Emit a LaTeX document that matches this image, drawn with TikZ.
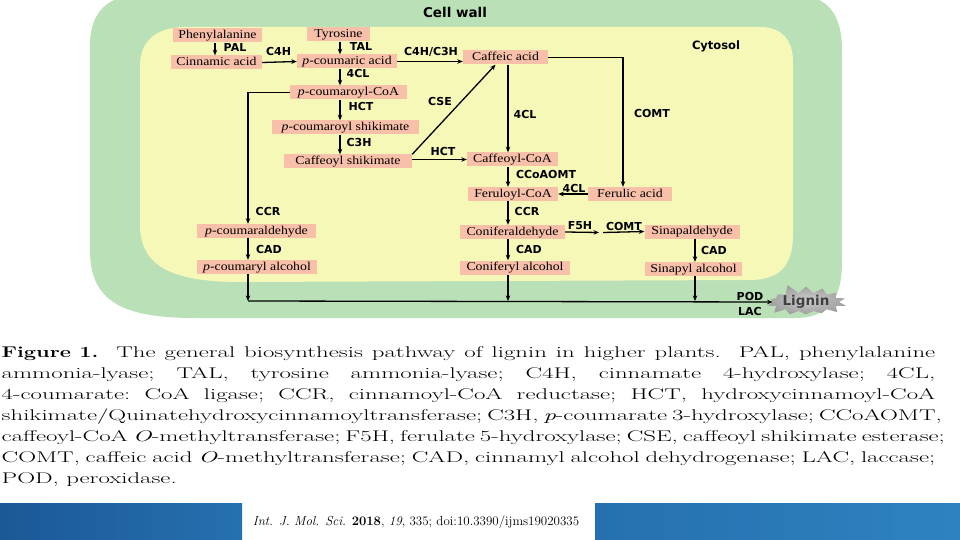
\documentclass[tikz,border=0pt]{standalone}
\usepackage{fontspec}
\usetikzlibrary{arrows.meta,shapes.symbols,calc}
\newfontfamily\boxfont{Liberation Serif}[FakeStretch=1.15]
\newfontfamily\labfont{DejaVu Sans}
\definecolor{cellgreen}{RGB}{185,224,182}
\definecolor{cytyellow}{RGB}{245,248,182}
\definecolor{boxc}{RGB}{248,192,168}
\definecolor{barL}{RGB}{27,88,150}
\definecolor{barM}{RGB}{38,112,175}
\definecolor{barR}{RGB}{46,130,192}
\tikzset{
  cmp/.style={fill=boxc, font=\boxfont\fontsize{12}{13}\selectfont, inner xsep=0pt, inner ysep=1.5pt,
    text height=8.5pt, text depth=2.5pt, minimum height=14pt},
  enz/.style={font=\labfont\bfseries\fontsize{11}{12}\selectfont, inner sep=0pt},
  ttl/.style={font=\labfont\bfseries\fontsize{13.5}{14}\selectfont, inner sep=0pt},
  arr/.style={-{Stealth[length=5.5pt,width=4.5pt]}, line width=1.3pt},
  capline/.style={font=\fontsize{15.5}{18}\selectfont\frenchspacing, inner sep=0pt, anchor=base west},
}
\newcommand{\capl}[1]{\scalebox{1.6}[1]{\makebox[583.5pt][s]{#1}}}
\begin{document}
\begin{tikzpicture}[x=1pt,y=-1pt]
\useasboundingbox (0,0) rectangle (960,540);
% cell wall and cytosol
\fill[cellgreen] (140,-5) -- (795,-5) .. controls (828,-5) and (842,15) .. (842,50)
  -- (842,262) .. controls (842,300) and (828,318) .. (795,318) -- (195,318)
  .. controls (120,318) and (90,300) .. (90,250) -- (90,45)
  .. controls (90,12) and (108,-5) .. (140,-5) -- cycle;
\fill[cytyellow] (185,27) -- (760,27) .. controls (782,27) and (793,40) .. (793,62)
  -- (793,235) .. controls (793,265) and (780,280) .. (750,280) -- (240,282)
  .. controls (170,282) and (140,265) .. (140,225) -- (140,65)
  .. controls (140,40) and (158,27) .. (185,27) -- cycle;
\node[ttl] (cw) at (455,12) {Cell wall};
\node[enz, font=\labfont\bfseries\fontsize{11.5}{12}\selectfont] (cyt) at (716,46) {Cytosol};
% compounds
\node[cmp, minimum width=89pt] (phe) at (217.5,35.5) {Phenylalanine};
\node[cmp, minimum width=91pt] (cin) at (216.5,62.5) {Cinnamic acid};
\node[cmp, minimum width=63pt] (tyr) at (338.5,34.5) {Tyrosine};
\node[cmp, minimum width=100pt] (pca) at (347,61.5) {\textit{p}-coumaric acid};
\node[cmp, minimum width=117pt] (pcoa) at (348.5,92.5) {\textit{p}-coumaroyl-CoA};
\node[cmp, minimum width=147pt] (pcs) at (345.5,127.5) {\textit{p}-coumaroyl shikimate};
\node[cmp, minimum width=128pt] (cs) at (348,161.5) {Caffeoyl shikimate};
\node[cmp, minimum width=85pt] (caf) at (505.5,57.5) {Caffeic acid};
\node[cmp, minimum width=91pt] (cafcoa) at (512.5,159.5) {Caffeoyl-CoA};
\node[cmp, minimum width=90pt] (fercoa) at (513,194) {Feruloyl-CoA};
\node[cmp, minimum width=84pt] (fer) at (630,194) {Ferulic acid};
\node[cmp, minimum width=105pt] (conald) at (512.5,232) {Coniferaldehyde};
\node[cmp, minimum width=110pt] (conalc) at (515,267.5) {Coniferyl alcohol};
\node[cmp, minimum width=95pt] (sinald) at (692,231.5) {Sinapaldehyde};
\node[cmp, minimum width=97pt] (sinalc) at (693.5,269) {Sinapyl alcohol};
\node[cmp, minimum width=119pt] (pcald) at (256.5,231) {\textit{p}-coumaraldehyde};
\node[cmp, minimum width=120pt] (pcalc) at (257,267) {\textit{p}-coumaryl alcohol};
\node[starburst, starburst points=14, starburst point height=10pt, random starburst=5,
  minimum width=64pt, minimum height=24pt, inner sep=0pt,
  inner color=gray!40, outer color=gray!75, text=black!75,
  font=\labfont\bfseries\fontsize{13.5}{14}\selectfont] (lig) at (806,302) {Lignin};
% column coordinates
\coordinate (x1) at (215,0);
\coordinate (c1) at (340,0);
\coordinate (c2) at (508,0);
\coordinate (c3) at (695,0);
\coordinate (cL) at (248,0);
\coordinate (cF) at (623,0);
\coordinate (bL) at (248,301);
\coordinate (bM) at (508,301);
\coordinate (bR) at (695,301);
\coordinate (m1) at (599,232.5);
\coordinate (m2) at (603,232.5);
% arrows
\draw[arr] (phe.south -| x1) -- (cin.north -| x1);
\draw[arr] (tyr.south -| c1) -- (pca.north -| c1);
\draw[arr] (cin.east) -- (pca.west);
\draw[arr] (pca.east) -- (pca.east -| caf.west);
\draw[arr] (pca.south -| c1) -- (pcoa.north -| c1);
\draw[arr] (pcoa.south -| c1) -- (pcs.north -| c1);
\draw[arr] (pcs.south -| c1) -- (cs.north -| c1);
\draw[arr] (cs.north east) -- ([xshift=-10pt]caf.south);
\draw[arr] (cs.east |- cafcoa.west) -- (cafcoa.west);
\draw[arr, line width=1.9pt] (caf.south -| c2) -- (cafcoa.north -| c2);
\draw[arr] (caf.east) -- (caf.east -| cF) -- (fer.north -| cF);
\draw[arr] (cafcoa.south -| c2) -- (fercoa.north -| c2);
\draw[arr] (fer.west) -- (fercoa.east);
\draw[arr] (fercoa.south -| c2) -- (conald.north -| c2);
\draw[arr] (conald.east) -- (m1);
\draw[arr] (m2) -- (sinald.west);
\draw[arr] (conald.south -| c2) -- (conalc.north -| c2);
\draw[arr] (sinald.south -| c3) -- (sinalc.north -| c3);
\draw[arr] (pcoa.west) -- (pcoa.west -| cL) -- (pcald.north -| cL);
\draw[arr] (pcald.south -| cL) -- (pcalc.north -| cL);
\draw[arr] (pcalc.south -| cL) -- (bL);
\draw[arr] (conalc.south -| c2) -- (bM);
\draw[arr] (sinalc.south -| c3) -- (bR);
\draw[arr] (bL) -- (lig.west);
% enzyme labels
\node[enz] (lPAL) at (235,47) {PAL};
\node[enz] (lTAL) at (361,46.5) {TAL};
\node[enz] (lC4H) at (278.5,51) {C4H};
\node[enz] (lC4C3) at (431,52) {C4H/C3H};
\node[enz] (l4CLa) at (358,73) {4CL};
\node[enz] (lHCTa) at (361,106) {HCT};
\node[enz] (lC3H) at (359,142) {C3H};
\node[enz] (lCSE) at (440,101) {CSE};
\node[enz] (lHCTb) at (443,151) {HCT};
\node[enz] (l4CLb) at (525,114) {4CL};
\node[enz] (lCOMTa) at (652,113.5) {COMT};
\node[enz] (lCCo) at (546,174) {CCoAOMT};
\node[enz] (l4CLc) at (574,188) {4CL};
\node[enz] (lCCRb) at (527,211) {CCR};
\node[enz] (lF5H) at (580,226) {F5H};
\node[enz] (lCOMTb) at (624,226) {COMT};
\node[enz] (lCADb) at (529,249) {CAD};
\node[enz] (lCADc) at (714,250) {CAD};
\node[enz] (lCCRa) at (268,211) {CCR};
\node[enz] (lCADa) at (269,249) {CAD};
\node[enz] (lPOD) at (750,296) {POD};
\node[enz] (lLAC) at (750,311) {LAC};
% caption
\node[capline] (cap1) at (1.5,357) {\capl{\scalebox{0.88}[1]{\textbf{Figure 1.}}\ \ The general biosynthesis pathway of lignin in higher plants.\ \ PAL, phenylalanine}};
\node[capline] (cap2) at (1.5,378) {\capl{ammonia-lyase; TAL, tyrosine ammonia-lyase; C4H, cinnamate 4-hydroxylase; 4CL,}};
\node[capline] (cap3) at (1.5,399) {\capl{4-coumarate: CoA ligase; CCR, cinnamoyl-CoA reductase; HCT, hydroxycinnamoyl-CoA}};
\node[capline] (cap4) at (1.5,420) {\capl{shikimate/Quinatehydroxycinnamoyltransferase; C3H, \textit{p}-coumarate 3-hydroxylase; CCoAOMT,}};
\node[capline] (cap5) at (1.5,441) {\capl{caffeoyl-CoA \textit{O}-methyltransferase; F5H, ferulate 5-hydroxylase; CSE, caffeoyl shikimate esterase;}};
\node[capline] (cap6) at (1.5,462) {\capl{COMT, caffeic acid \textit{O}-methyltransferase; CAD, cinnamyl alcohol dehydrogenase; LAC, laccase;}};
\node[capline] (cap7) at (1.5,483) {\scalebox{1.6}[1]{POD, peroxidase.}};
% footer
\shade[left color=barL, right color=barM] (0,503) rectangle (242,540);
\shade[left color=barM, right color=barR] (595,503) rectangle (960,540);
\node[font=\fontsize{13}{15}\selectfont, inner sep=0pt] (foot) at (416,522) {\textit{Int. J. Mol. Sci.} \textbf{2018}, \textit{19}, 335; doi:10.3390/ijms19020335};
\end{tikzpicture}
\end{document}
